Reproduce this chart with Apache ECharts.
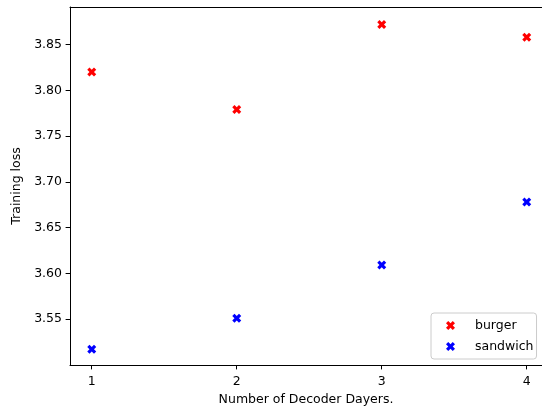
<!DOCTYPE html>
<html>
<head>
<meta charset="utf-8">
<script src="https://cdn.jsdelivr.net/npm/echarts@6/dist/echarts.min.js"></script>
<style>html,body{margin:0;padding:0;background:#fff}#c{width:542px;height:408px}</style>
</head>
<body>
<div id="c"></div>
<script>
const layers = [1, 2, 3, 4];
const burger = [3.820, 3.779, 3.872, 3.858];
const sandwich = [3.517, 3.551, 3.609, 3.678];
const xTicks = [1, 2, 3, 4];
const yTicks = [3.55, 3.60, 3.65, 3.70, 3.75, 3.80, 3.85];

const X = 'path://M0,2 L2,0 L4,2 L6,0 L8,2 L6,4 L8,6 L6,8 L4,6 L2,8 L0,6 L2,4 Z';
const font = 'DejaVu Sans';
const chart = echarts.init(document.getElementById('c'), null, {renderer: 'canvas'});
const lineSt = {color: '#000', width: 1};
chart.setOption({
  animation: false,
  backgroundColor: '#fff',
  textStyle: {fontFamily: font},
  grid: {left: 70, top: 7, width: 472, height: 358, show: false, containLabel: false, outerBoundsMode: 'none'},
  legend: {
    orient: 'vertical', left: 431, top: 313,
    padding: [6, 3, 6, 15], itemGap: 8,
    itemWidth: 9, itemHeight: 9,
    borderColor: '#cccccc', borderWidth: 1, borderRadius: 3,
    backgroundColor: 'rgba(255,255,255,0.8)',
    textStyle: {fontFamily: font, fontSize: 12.5, color: '#000', padding: [0, 0, 0, 15]},
    data: [{name: 'burger', icon: X}, {name: 'sandwich', icon: X}]
  },
  xAxis: [{
    type: 'value', min: 0.85, max: 4.1052,
    name: 'Number of Decoder Dayers.', nameLocation: 'middle', nameGap: 28,
    nameTextStyle: {fontFamily: font, fontSize: 12.5, color: '#000'},
    axisLine: {show: true, onZero: false, lineStyle: lineSt},
    axisTick: {show: true, length: 4.4, customValues: xTicks, lineStyle: lineSt},
    axisLabel: {customValues: xTicks, margin: 10, fontFamily: font, fontSize: 12.5, color: '#000'},
    splitLine: {show: false}
  }, {
    type: 'value', position: 'top', min: 0.85, max: 4.1052,
    axisLine: {show: true, onZero: false, lineStyle: lineSt},
    axisTick: {show: false}, axisLabel: {show: false}, splitLine: {show: false}
  }],
  yAxis: {
    type: 'value', min: 3.4998, max: 3.891,
    name: 'Training loss', nameLocation: 'middle', nameGap: 47,
    nameTextStyle: {fontFamily: font, fontSize: 12.5, color: '#000'},
    axisLine: {show: true, onZero: false, lineStyle: lineSt},
    axisTick: {show: true, length: 4.4, customValues: yTicks, lineStyle: lineSt},
    axisLabel: {customValues: yTicks, margin: 8, fontFamily: font, fontSize: 12.5, color: '#000',
      formatter: v => v.toFixed(2)},
    splitLine: {show: false}
  },
  series: [
    {name: 'burger', type: 'scatter', symbol: X, symbolSize: 9, itemStyle: {color: '#ff0000', opacity: 1},
     data: layers.map((x, i) => [x, burger[i]])},
    {name: 'sandwich', type: 'scatter', symbol: X, symbolSize: 9, itemStyle: {color: '#0000ff', opacity: 1},
     data: layers.map((x, i) => [x, sandwich[i]])}
  ]
});
</script>
</body>
</html>
